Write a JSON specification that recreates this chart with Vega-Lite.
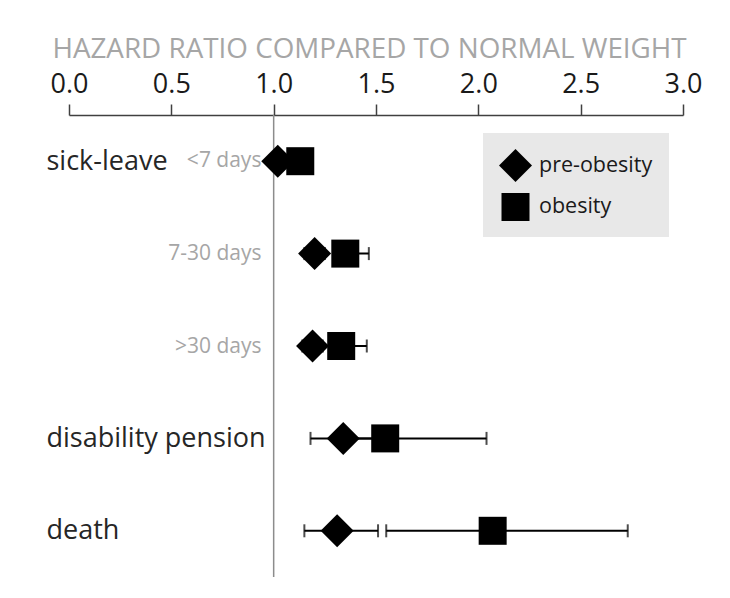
{
  "$schema": "https://vega.github.io/schema/vega-lite/v6.json",
  "width": 614,
  "height": 462,
  "autosize": "none",
  "padding": {"left": 69, "top": 115, "right": 47, "bottom": 21},
  "background": "white",
  "config": {
    "view": {"stroke": null},
    "font": "Open Sans"
  },
  "data": {
    "values": [
      {"label": "sick-leave", "group": "pre-obesity", "hr": 1.02, "lo": 0.98, "hi": 1.06},
      {"label": "sick-leave", "group": "obesity", "hr": 1.13, "lo": 1.09, "hi": 1.17},
      {"label": "7-30 days", "group": "pre-obesity", "hr": 1.2, "lo": 1.15, "hi": 1.25},
      {"label": "7-30 days", "group": "obesity", "hr": 1.35, "lo": 1.29, "hi": 1.465},
      {"label": ">30 days", "group": "pre-obesity", "hr": 1.19, "lo": 1.14, "hi": 1.24},
      {"label": ">30 days", "group": "obesity", "hr": 1.33, "lo": 1.27, "hi": 1.455},
      {"label": "disability pension", "group": "pre-obesity", "hr": 1.34, "lo": 1.18, "hi": 1.52},
      {"label": "disability pension", "group": "obesity", "hr": 1.545, "lo": 1.33, "hi": 2.04},
      {"label": "death", "group": "pre-obesity", "hr": 1.31, "lo": 1.15, "hi": 1.51},
      {"label": "death", "group": "obesity", "hr": 2.07, "lo": 1.55, "hi": 2.73}
    ]
  },
  "layer": [
    {
      "data": {"values": [{}]},
      "mark": {"type": "rule", "color": "#8c8c8c", "strokeWidth": 1.5},
      "encoding": {"x": {"datum": 1, "type": "quantitative"}}
    },
    {
      "data": {"values": [{"label": "sick-leave", "note": "<7 days"}]},
      "mark": {"type": "text", "align": "right", "baseline": "middle", "color": "#a6a6a6", "fontSize": 21},
      "encoding": {
        "x": {"datum": 0.94, "type": "quantitative"},
        "y": {"field": "label", "type": "nominal"},
        "text": {"field": "note"}
      }
    },
    {
      "mark": {"type": "rule", "color": "black", "strokeWidth": 2},
      "encoding": {
        "y": {"field": "label", "type": "nominal"},
        "x": {"field": "lo", "type": "quantitative"},
        "x2": {"field": "hi"}
      }
    },
    {
      "mark": {"type": "tick", "color": "black", "size": 13, "thickness": 2},
      "encoding": {
        "y": {"field": "label", "type": "nominal"},
        "x": {"field": "lo", "type": "quantitative"}
      }
    },
    {
      "mark": {"type": "tick", "color": "black", "size": 13, "thickness": 2},
      "encoding": {
        "y": {"field": "label", "type": "nominal"},
        "x": {"field": "hi", "type": "quantitative"}
      }
    },
    {
      "mark": {"type": "point", "filled": true, "color": "black", "opacity": 1, "strokeWidth": 0},
      "encoding": {
        "y": {"field": "label", "type": "nominal"},
        "x": {"field": "hr", "type": "quantitative"},
        "shape": {
          "field": "group",
          "type": "nominal",
          "scale": {"domain": ["pre-obesity", "obesity"], "range": ["diamond", "square"]},
          "legend": {
            "title": null,
            "orient": "none",
            "legendX": 414,
            "legendY": 18,
            "fillColor": "#e8e8e8",
            "padding": 16,
            "labelFontSize": 21.5,
            "labelColor": "#1a1a1a",
            "labelOffset": 7,
            "rowPadding": 11,
            "symbolStrokeWidth": 0,
            "symbolFillColor": "black"
          }
        },
        "size": {
          "field": "group",
          "type": "nominal",
          "scale": {"domain": ["pre-obesity", "obesity"], "range": [1089, 784]},
          "legend": {
            "title": null,
            "orient": "none",
            "legendX": 414,
            "legendY": 18,
            "fillColor": "#e8e8e8",
            "padding": 16,
            "labelFontSize": 21.5,
            "labelColor": "#1a1a1a",
            "labelOffset": 7,
            "rowPadding": 11,
            "symbolStrokeWidth": 0,
            "symbolFillColor": "black"
          }
        }
      }
    }
  ],
  "encoding": {
    "x": {
      "scale": {"domain": [0, 3], "nice": false, "zero": false},
      "axis": {
        "orient": "top",
        "values": [0, 0.5, 1, 1.5, 2, 2.5, 3],
        "format": ".1f",
        "grid": false,
        "title": "HAZARD RATIO COMPARED TO NORMAL WEIGHT",
        "titleColor": "#a6a6a6",
        "titleFontSize": 27.8,
        "titleFontWeight": "normal",
        "titlePadding": 7,
        "titleX": 300,
        "labelFontSize": 27,
        "labelColor": "#1a1a1a",
        "labelPadding": 6,
        "labelFlush": false,
        "tickSize": 11,
        "tickColor": "#404040",
        "domainColor": "#404040",
        "tickWidth": 1.5,
        "domainWidth": 1.5
      }
    },
    "y": {
      "scale": {
        "type": "point",
        "padding": 0.5,
        "domain": ["sick-leave", "7-30 days", ">30 days", "disability pension", "death"]
      },
      "axis": {
        "title": null,
        "domain": false,
        "ticks": false,
        "labelFontSize": {"condition": {"test": "indexof(['7-30 days', '>30 days'], datum.value) >= 0", "value": 21}, "value": 27},
        "labelColor": {"condition": {"test": "indexof(['7-30 days', '>30 days'], datum.value) >= 0", "value": "#a6a6a6"}, "value": "#262626"},
        "labelAlign": {"condition": {"test": "indexof(['7-30 days', '>30 days'], datum.value) >= 0", "value": "right"}, "value": "left"},
        "labelPadding": {"condition": {"test": "indexof(['7-30 days', '>30 days'], datum.value) >= 0", "value": -192}, "value": 23},
        "labelBaseline": "middle",
        "labelLimit": 300
      }
    }
  }
}
